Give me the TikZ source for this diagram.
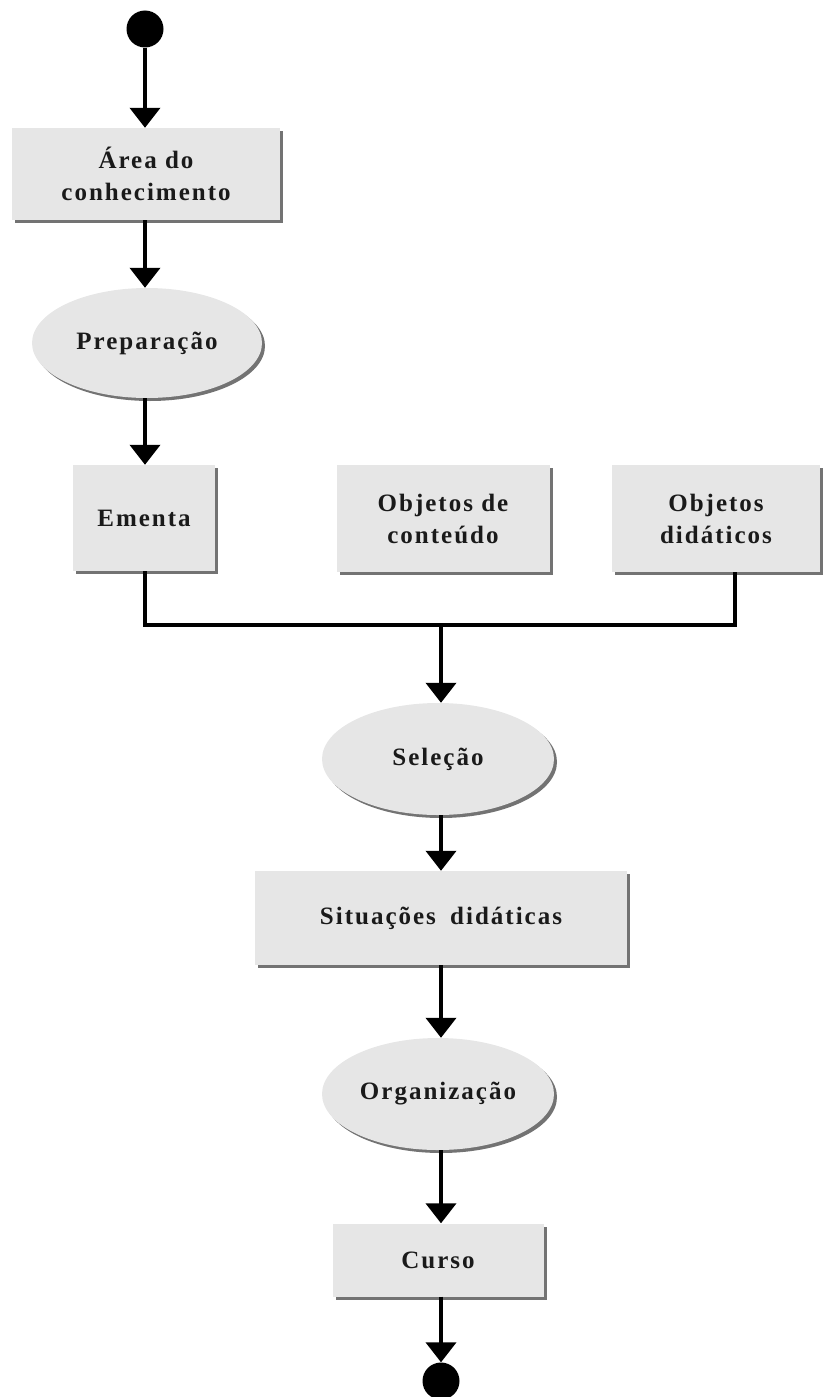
\documentclass[tikz,border=0pt]{standalone}
\usepackage{fontspec}
\setmainfont{Liberation Serif}[LetterSpace=8]
\usetikzlibrary{shapes.geometric,arrows.meta,shadows}
\definecolor{boxgray}{HTML}{E6E6E6}
\definecolor{textc}{HTML}{1A1A1A}
\tikzset{
  shade3/.style={drop shadow={shadow xshift=3pt,shadow yshift=-3pt,fill=black,opacity=0.55}},
  box/.style={rectangle,fill=boxgray,inner sep=0pt,align=center,text=textc,
    font=\bfseries\fontsize{25}{32}\selectfont,shade3},
  oval/.style={ellipse,fill=boxgray,inner sep=0pt,align=center,text=textc,
    font=\bfseries\fontsize{25}{32}\selectfont,shade3},
  flow/.style={line width=4pt,-{Triangle[width=30pt,length=20pt]}},
  link/.style={line width=4pt},
  dot/.style={circle,fill=black,minimum size=37pt,inner sep=0pt}
}
\begin{document}
\begin{tikzpicture}[x=1pt,y=-1pt]
\useasboundingbox (0,0) rectangle (822,1397);
\node[dot] (start) at (145,29) {};
\node[box,minimum width=268pt,minimum height=92pt] (area) at (146,174) {Área do\\conhecimento};
\node[oval,minimum width=230pt,minimum height=110pt] (prep) at (147,343) {Preparação};
\node[box,minimum width=142pt,minimum height=106pt] (ementa) at (144,518) {Ementa};
\node[box,minimum width=213pt,minimum height=107pt] (objc) at (443,518.5) {Objetos de\\conteúdo};
\node[box,minimum width=208pt,minimum height=107pt] (objd) at (716,518.5) {Objetos\\didáticos};
\coordinate (j) at (441,625);
\node[oval,minimum width=232pt,minimum height=112pt] (sel) at (438,759) {Seleção};
\node[box,minimum width=372pt,minimum height=94pt] (sit) at (441,918) {Situações\hspace{6pt} didáticas};
\node[oval,minimum width=232pt,minimum height=112pt] (org) at (438,1094) {Organização};
\node[box,minimum width=211pt,minimum height=73pt] (curso) at (438,1260) {Curso};
\node[dot] (end) at (441,1381) {};

\draw[flow] (start.south) -- (start.south |- area.north);
\draw[flow] (start.south |- area.south) -- (start.south |- prep.north);
\draw[flow] (start.south |- prep.south) -- (start.south |- ementa.north);
\draw[link] (start.south |- ementa.south) -- (start.south |- j) -- ([xshift=19pt]objd.south |- j) -- ([xshift=19pt]objd.south);
\draw[flow] (j) -- (j |- sel.north);
\draw[flow] (sel.south -| j) -- (sit.north -| j);
\draw[flow] (sit.south -| j) -- (org.north -| j);
\draw[flow] (org.south -| j) -- (curso.north -| j);
\draw[flow] (curso.south -| j) -- (end.north);
\end{tikzpicture}
\end{document}
